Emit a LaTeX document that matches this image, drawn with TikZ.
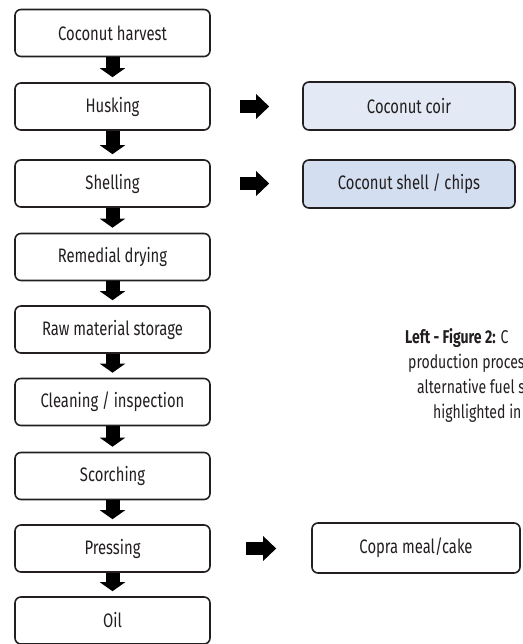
\documentclass[tikz,border=0pt]{standalone}
\usepackage{fontspec}
\setmainfont{Fira Sans}[FakeStretch=0.76]
\usetikzlibrary{arrows.meta}

\definecolor{coirblue}{RGB}{228,234,245}
\definecolor{shellblue}{RGB}{211,223,241}
\definecolor{inkgray}{RGB}{35,31,32}

\begin{document}
\begin{tikzpicture}[x=1pt,y=1pt,
    stepbox/.style={draw=inkgray, line width=1.6pt, rounded corners=6pt, minimum width=195pt, minimum height=47pt, inner sep=0pt, text=inkgray, font=\fontsize{19.5}{22}\selectfont},
    sidebox/.style={stepbox, minimum width=212pt, minimum height=48pt},
    downarrow/.style={line width=14pt, -{Triangle[width=25pt,length=9pt]}, shorten >=5pt},
    sidearrow/.style={line width=13pt, -{Triangle[width=24pt,length=13pt]}},
    caption/.style={anchor=base west, inner sep=0pt, text=inkgray, font=\fontsize{18.5}{20}\selectfont}]
          \useasboundingbox (0,0) rectangle (522,-644);
          \node [stepbox] (harvest) at (112.5,-33) {Coconut harvest};
          \node [stepbox] (husk) at (112.5,-106.5) {Husking};
          \node [stepbox] (shell) at (112.5,-183.5) {Shelling};
          \node [stepbox] (drying) at (112.5,-257) {Remedial drying};
          \node [stepbox] (storage) at (112.5,-329.5) {Raw material storage};
          \node [stepbox] (clean) at (112.5,-402) {Cleaning / inspection};
          \node [stepbox] (scorch) at (112.5,-476) {Scorching};
          \node [stepbox] (press) at (112.5,-548.5) {Pressing};
          \node [stepbox] (oil) at (112.5,-620.5) {Oil};
          \node [sidebox, fill=coirblue] (coir) at (409,-106) {Coconut coir};
          \node [sidebox, fill=shellblue] (chips) at (409,-184) {Coconut shell / chips};
          \node [sidebox, minimum width=208pt, minimum height=50pt] (meal) at (416,-548) {Copra meal/cake};
          \draw [downarrow] (harvest.south) -- (husk.north);
          \draw [downarrow] (husk.south) -- (shell.north);
          \draw [downarrow] (shell.south) -- (drying.north);
          \draw [downarrow] (drying.south) -- (storage.north);
          \draw [downarrow] (storage.south) -- (clean.north);
          \draw [downarrow] (clean.south) -- (scorch.north);
          \draw [downarrow] (scorch.south) -- (press.north);
          \draw [downarrow] (press.south) -- (oil.north);
          \draw [sidearrow, shorten <=29pt, shorten >=33pt] (husk.east) -- (husk.east -| coir.west);
          \draw [sidearrow, shorten <=29pt, shorten >=33pt] (shell.east) -- (shell.east -| chips.west);
          \draw [sidearrow, shorten <=35pt, shorten >=35pt] (press.east) -- (press.east -| meal.west);
          \node [caption] (capa) at (405,-343) {\textbf{Left - Figure 2:} C};
          \node [caption] (capb) at (408,-368) {production proces};
          \node [caption] (capc) at (417,-393) {alternative fuel s};
          \node [caption] (capd) at (433,-418) {highlighted in};
\end{tikzpicture}
\end{document}
